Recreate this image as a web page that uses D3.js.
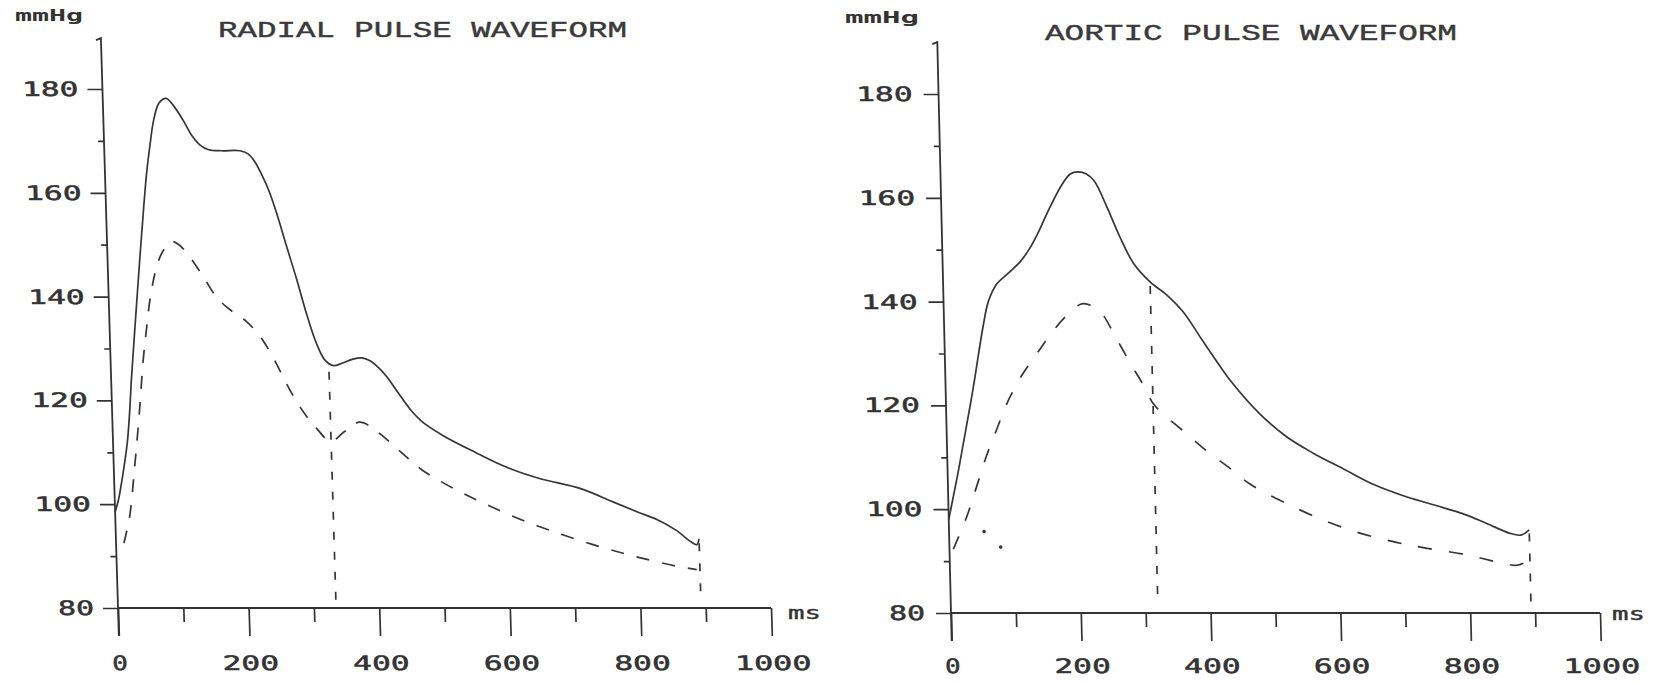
<!DOCTYPE html>
<html><head><meta charset="utf-8">
<script src="https://cdn.jsdelivr.net/npm/d3@7"></script>
<style>body{margin:0;background:#fff}svg{display:block}</style>
</head><body>
<svg id="c" width="1656" height="683"></svg>
<script>
// ---------- data ----------
const xMajorTicks = [0, 200, 400, 600, 800, 1000];
const xMinorTicks = [100, 300, 500, 700, 900];
const yMajorTicks = [80, 100, 120, 140, 160, 180];
const yMinorTicks = [90, 110, 130, 150, 170];

const radialTitle = "RADIAL PULSE WAVEFORM";
const aorticTitle = "AORTIC PULSE WAVEFORM";
const yUnitLabel = "mmHg";
const xUnitLabel = "ms";

// Radial pulse (time ms, pressure mmHg)
const radialSolidT = [0, 6, 14, 22, 27, 31, 40, 50, 58, 64, 70, 77, 86, 97, 108, 122, 135, 147, 160, 180, 208, 220, 230, 240, 250, 261, 275, 289, 302, 316, 328, 341, 355, 370, 385, 398, 410, 422, 436, 448, 459, 475, 506, 554, 600, 650, 714, 762, 800, 830, 858, 880, 889, 893];
const radialSolidV = [98.5, 101, 106, 112, 118, 124, 135.5, 148, 157.5, 164, 169, 174, 177.3, 178.2, 176.8, 174, 171, 169.2, 168.3, 168.1, 168.1, 167.5, 166, 163.5, 160.5, 156.1, 149.6, 143.2, 136.8, 131, 127.8, 126.7, 127.2, 127.9, 128.2, 127.6, 126.3, 124.6, 122, 119.8, 117.9, 115.8, 113.2, 110, 107.2, 105, 103, 100.5, 98.5, 97, 95, 92.8, 92.2, 93.3];
const radialDashT = [12, 22, 32, 42, 50, 57, 63, 72, 80, 88, 99, 110, 124, 146, 163, 180, 210, 222, 235, 251, 266, 282, 300, 313, 333, 355, 378, 395, 410, 441, 472, 520, 568, 616, 664, 728, 792, 856, 888];
const radialDashV = [92.5, 97.6, 107.2, 118, 127.8, 134.2, 139.3, 144.5, 147.5, 149.3, 150.6, 150, 148, 143.8, 140.3, 138, 135.2, 133.6, 131.4, 127.8, 123.8, 120, 116.5, 114.5, 112.1, 114, 115.8, 115, 113.5, 110, 106.6, 103, 100, 97.3, 95, 92.3, 90, 88.1, 87.4];
const radialMarkerT = [334, 893];
const radialMarkerTop = [125.5, 92.5];

// Aortic pulse
const aorticSolidT = [0, 8, 16, 25, 42, 60, 69, 82, 100, 119, 135, 148, 162, 184, 200, 212, 225, 237, 255, 274, 294, 319, 344, 369, 394, 408, 425, 442, 482, 523, 564, 611, 657, 699, 746, 793, 828, 863, 881, 894];
const aorticSolidV = [98, 102.5, 107, 112.5, 123, 135.2, 140, 143.3, 145.4, 147.6, 150.3, 153.2, 156.8, 162, 164.6, 165, 164.6, 163.2, 158.3, 152.5, 147.4, 143.8, 141.3, 138, 133.2, 130.5, 127.3, 124.3, 118.5, 114, 110.8, 107.7, 104.7, 102.7, 100.9, 99.1, 97.3, 95.4, 95, 96];
const aorticDashT = [6, 28, 44, 60, 77, 94, 115, 132, 149, 163, 189, 215, 241, 264, 287, 305, 319, 334, 369, 403, 433, 466, 521, 577, 633, 689, 730, 797, 848, 874, 889];
const aorticDashV = [92.3, 98.6, 104.3, 110.1, 115.3, 120.4, 125.2, 128.3, 131.2, 133.6, 137.3, 139.6, 138, 133.1, 127.8, 123.9, 120.4, 118.4, 114.6, 110.9, 108.1, 104.8, 101.1, 97.9, 95.4, 93.6, 92.6, 91.2, 89.7, 89.2, 89.9];
const aorticMarkerT = [319, 894];
const aorticMarkerTop = [143, 95.3];
const aorticStrayT = [54, 79];
const aorticStrayV = [95.7, 92.7];

// ---------- drawing ----------
const svg = d3.select("#c");
svg.append("rect").attr("width", 1656).attr("height", 683).attr("fill", "#fff");

const INK = "#333";
const numFont = "'DejaVu Sans Mono', monospace";
const numWidth = s => String(s).length * 20.5 - 5;

function drawChart(cfg) {
  const x = d3.scaleLinear().domain([0, 1000]).range([cfg.x0, cfg.x1]);
  const y = d3.scaleLinear().domain([80, 180]).range([cfg.yBase, cfg.yTop]);
  const ang = Math.atan(cfg.shear) * 180 / Math.PI;
  const g = svg.append("g")
    .attr("transform", `translate(0,${cfg.yBase}) skewX(${ang}) translate(0,${-cfg.yBase})`);

  // x axis
  const xa = g.append("g").attr("transform", `translate(0,${y(80)})`)
    .call(d3.axisBottom(x).tickValues(xMajorTicks).tickSize(28).tickSizeOuter(0)
      .tickPadding(cfg.xPad).tickFormat(d3.format("d")));
  xa.select(".domain").remove();
  const xm = g.append("g").attr("transform", `translate(0,${y(80)})`)
    .call(d3.axisBottom(x).tickValues(xMinorTicks).tickSize(14).tickSizeOuter(0).tickFormat(""));
  xm.select(".domain").remove();

  // y axis
  const ya = g.append("g").attr("transform", `translate(${x(0)},0)`)
    .call(d3.axisLeft(y).tickValues(yMajorTicks).tickSize(15).tickSizeOuter(0)
      .tickPadding(cfg.yPad).tickFormat(d3.format("d")));
  ya.select(".domain").remove();
  const ym = g.append("g").attr("transform", `translate(${x(0)},0)`)
    .call(d3.axisLeft(y).tickValues(yMinorTicks).tickSize(6).tickSizeOuter(0).tickFormat(""));
  ym.select(".domain").remove();

  g.selectAll(".tick line").attr("stroke", INK).attr("stroke-width", 1.7);
  g.selectAll(".tick text")
    .attr("fill", INK).attr("stroke", INK).attr("stroke-width", 0.5)
    .attr("font-family", numFont).attr("font-size", 20)
    .attr("textLength", d => numWidth(d)).attr("lengthAdjust", "spacingAndGlyphs");

  // axis lines
  g.append("path")
    .attr("d", `M${x(0)},${y(80)}H${x(1000)}`)
    .attr("stroke", INK).attr("stroke-width", 1.8).attr("fill", "none");
  g.append("path")
    .attr("d", `M${x(0)},${y(80) + 28}V${y(cfg.axisTop)}l-5,2`)
    .attr("stroke", INK).attr("stroke-width", 1.8).attr("fill", "none");

  const line = d3.line().x(d => x(d[0])).y(d => y(d[1])).curve(d3.curveCatmullRom.alpha(0.5));

  g.append("path").datum(d3.zip(cfg.solidT, cfg.solidV))
    .attr("d", line).attr("fill", "none").attr("stroke", "#363636").attr("stroke-width", 1.7);
  g.append("path").datum(d3.zip(cfg.dashT, cfg.dashV))
    .attr("d", line).attr("fill", "none").attr("stroke", "#363636").attr("stroke-width", 1.7)
    .attr("stroke-dasharray", cfg.dash);

  g.selectAll(".marker").data(d3.zip(cfg.markerT, cfg.markerTop)).join("line")
    .attr("x1", d => x(d[0])).attr("x2", d => x(d[0]))
    .attr("y1", d => y(d[1])).attr("y2", y(81.5))
    .attr("stroke", "#363636").attr("stroke-width", 1.7).attr("stroke-dasharray", "8,12");

  if (cfg.strayT) {
    g.selectAll(".stray").data(d3.zip(cfg.strayT, cfg.strayV)).join("circle")
      .attr("cx", d => x(d[0])).attr("cy", d => y(d[1])).attr("r", 1.8).attr("fill", "#363636");
  }

  // title + units (not sheared)
  svg.append("text").attr("x", cfg.titleX).attr("y", cfg.titleY)
    .attr("font-family", "'Liberation Mono', monospace").attr("font-size", 22)
    .attr("fill", "#3a3a3a").attr("stroke", "#3a3a3a").attr("stroke-width", 0.4)
    .attr("textLength", cfg.titleW).attr("lengthAdjust", "spacingAndGlyphs")
    .text(cfg.title);
  svg.append("text").attr("x", cfg.unitYX).attr("y", cfg.unitYY)
    .attr("font-family", numFont).attr("font-size", 16).attr("font-weight", "bold")
    .attr("fill", INK).attr("textLength", cfg.unitYW).attr("lengthAdjust", "spacingAndGlyphs")
    .text(yUnitLabel);
  svg.append("text").attr("x", cfg.unitXX).attr("y", cfg.unitXY)
    .attr("font-family", numFont).attr("font-size", 18)
    .attr("fill", INK).attr("stroke", INK).attr("stroke-width", 0.4)
    .attr("textLength", 33).attr("lengthAdjust", "spacingAndGlyphs")
    .text(xUnitLabel);
}

drawChart({
  x0: 118, x1: 771, yBase: 608, yTop: 89, shear: 0.03, axisTop: 189.8,
  xPad: 20, yPad: 9, dash: "13,13",
  solidT: radialSolidT, solidV: radialSolidV, dashT: radialDashT, dashV: radialDashV,
  markerT: radialMarkerT, markerTop: radialMarkerTop,
  title: radialTitle, titleX: 218, titleY: 37, titleW: 409,
  unitYX: 15, unitYY: 21, unitYW: 68, unitXX: 788, unitXY: 619
});
drawChart({
  x0: 951, x1: 1600, yBase: 613, yTop: 94, shear: 0.024, axisTop: 190,
  xPad: 18, yPad: 11, dash: "14,17",
  solidT: aorticSolidT, solidV: aorticSolidV, dashT: aorticDashT, dashV: aorticDashV,
  markerT: aorticMarkerT, markerTop: aorticMarkerTop,
  strayT: aorticStrayT, strayV: aorticStrayV,
  title: aorticTitle, titleX: 1045, titleY: 40, titleW: 412,
  unitYX: 845, unitYY: 23, unitYW: 74, unitXX: 1612, unitXY: 620
});
</script>
</body></html>
